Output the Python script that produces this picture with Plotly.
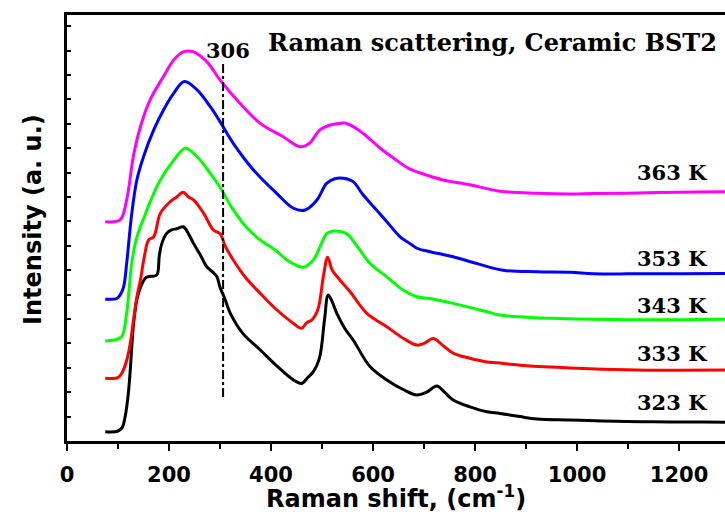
import plotly.graph_objects as go

# Raman spectra of ceramic BST2, stacked by temperature (intensity in arbitrary units, offset per curve)
shift_323 = [75, 99, 108, 114, 120, 124, 130, 137, 144, 155, 165, 176, 181, 186, 195, 205, 215, 228,
             238, 248, 262, 274, 287, 294, 300, 310, 320, 345, 379, 410, 444, 460, 472, 483, 495,
             505, 512, 520, 529, 545, 561, 594, 627, 660, 686, 705, 725, 740, 757, 790, 823, 849,
             888, 921, 986, 1050, 1097, 1150, 1200, 1250, 1290]
int_323 = [0.38, 0.40, 0.55, 1.0, 1.9, 2.9, 4.7, 5.8, 6.3, 6.7, 6.75, 6.8, 7.6, 8.1, 8.5, 8.65, 8.7, 8.78,
           8.5, 8.1, 7.6, 7.14, 6.9, 6.73, 6.3, 5.8, 5.24, 4.4, 3.73, 3.1, 2.5, 2.36, 2.6, 2.84, 3.4,
           5.0, 5.98, 5.7, 5.23, 4.6, 4.14, 3.05, 2.5, 2.1, 1.89, 2.0, 2.25, 2.0, 1.68, 1.4, 1.2, 1.13,
           1.0, 0.9, 0.86, 0.82, 0.8, 0.79, 0.78, 0.78, 0.77]

shift_333 = [75, 100, 108, 117, 124, 130, 137, 144, 152, 160, 170, 183, 202, 215, 228, 238, 248, 268,
             287, 300, 310, 326, 350, 379, 410, 444, 460, 470, 480, 492, 503, 511, 520, 535, 555, 588,
             627, 660, 686, 700, 718, 735, 757, 790, 820, 855, 901, 953, 1000, 1097, 1150, 1200, 1290]
int_333 = [2.57, 2.6, 2.8, 3.3, 4.0, 4.9, 5.9, 6.6, 7.6, 8.24, 8.37, 9.33, 9.8, 10.0, 10.2, 10.0, 9.88,
           9.33, 8.65, 8.5, 8.0, 7.42, 6.7, 6.05, 5.4, 4.82, 4.62, 4.85, 4.96, 5.4, 6.8, 7.53, 7.0,
           6.6, 6.12, 5.23, 4.68, 4.2, 3.93, 4.0, 4.2, 3.95, 3.6, 3.39, 3.25, 3.18, 3.08, 3.03, 2.98,
           2.92, 2.9, 2.9, 2.91]

shift_343 = [75, 98, 108, 117, 127, 135, 144, 150, 165, 183, 209, 232, 255, 281, 300, 326, 350, 379,
             410, 431, 450, 463, 483, 497, 509, 520, 529, 548, 570, 594, 627, 659, 686, 711, 757,
             823, 849, 921, 966, 1000, 1097, 1200, 1290]
int_343 = [4.1, 4.17, 4.3, 5.24, 7.3, 8.2, 8.78, 9.1, 9.9, 10.7, 11.5, 12.0, 11.65, 10.97, 10.4, 9.47,
           8.8, 8.24, 7.8, 7.42, 7.2, 7.12, 7.42, 8.0, 8.5, 8.6, 8.6, 8.5, 7.95, 7.28, 6.73, 6.19, 5.91,
           5.84, 5.64, 5.3, 5.16, 5.05, 5.02, 5.0, 4.97, 4.97, 4.99]

shift_353 = [75, 98, 104, 111, 117, 127, 137, 150, 170, 190, 209, 230, 255, 281, 300, 326, 366, 411,
             444, 467, 490, 509, 525, 542, 561, 580, 601, 627, 653, 672, 686, 712, 757, 803, 855,
             921, 986, 1032, 1100, 1200, 1290]
int_353 = [5.81, 5.85, 5.98, 6.32, 7.28, 9.33, 10.7, 11.65, 12.75, 13.6, 14.25, 14.73, 14.39, 13.7,
           13.09, 12.2, 11.1, 10.15, 9.54, 9.47, 9.88, 10.56, 10.75, 10.77, 10.63, 10.1, 9.6, 8.99,
           8.37, 8.1, 7.9, 7.76, 7.55, 7.28, 7.0, 6.94, 6.92, 6.86, 6.85, 6.86, 6.87]

shift_363 = [75, 104, 117, 130, 144, 163, 189, 209, 228, 248, 274, 300, 339, 379, 424, 457, 475, 496,
             516, 529, 545, 575, 614, 640, 672, 705, 737, 790, 849, 921, 986, 1032, 1100, 1200, 1290]
int_363 = [8.99, 9.06, 9.88, 11.65, 12.88, 13.98, 14.93, 15.61, 15.95, 15.95, 15.55, 14.8, 13.84,
           13.02, 12.47, 12.06, 12.2, 12.75, 12.95, 13.0, 13.03, 12.7, 12.0, 11.6, 11.15, 10.9,
           10.7, 10.5, 10.24, 10.15, 10.12, 10.14, 10.15, 10.2, 10.22]

temperatures = ["323 K", "333 K", "343 K", "353 K", "363 K"]
label_levels = [1.56, 3.6, 5.57, 7.5, 11.02]
colors = ["#000000", "#ff0000", "#00ff00", "#0000ff", "#ff00ff"]
spectra = [(shift_323, int_323), (shift_333, int_333), (shift_343, int_343),
           (shift_353, int_353), (shift_363, int_363)]

mode_position = 306
mode_span = [1.8, 15.5]

fig = go.Figure()
for (xs, ys), name, color in zip(spectra, temperatures, colors):
    fig.add_trace(go.Scatter(x=xs, y=ys, mode="lines", name=name,
                             line=dict(color=color, width=3, shape="spline", smoothing=1.0)))

# vertical marker for the 306 cm-1 mode
fig.add_shape(type="line", x0=mode_position, x1=mode_position, y0=mode_span[0], y1=mode_span[1],
              xref="x", yref="y", line=dict(color="black", width=2, dash="dashdot"))

serif = "DejaVu Serif"
sans = "DejaVu Sans"

annotations = [
    dict(x=mode_position + 10, y=16.0, text="306", showarrow=False, xanchor="center", yanchor="middle",
         font=dict(family=serif, size=21, color="black", weight="bold")),
    dict(x=1278, y=16.35, text="Raman scattering, Ceramic BST2", showarrow=False,
         xanchor="right", yanchor="middle",
         font=dict(family=serif, size=24, color="black", weight="bold")),
    dict(x=0.5, y=0, xref="paper", yref="paper", yshift=-56, text="Raman shift, (cm<sup>-1</sup>)",
         showarrow=False, xanchor="center", yanchor="middle",
         font=dict(family=sans, size=24, color="black", weight="bold")),
    dict(x=0, y=0.519, xref="paper", yref="paper", xshift=-34, text="Intensity (a. u.)",
         showarrow=False, xanchor="center", yanchor="middle", textangle=-90,
         font=dict(family=sans, size=24, color="black", weight="bold")),
]
for name, level in zip(temperatures, label_levels):
    annotations.append(dict(x=1186, y=level, text=name, showarrow=False, xanchor="center",
                            yanchor="middle",
                            font=dict(family=serif, size=21, color="black", weight="bold")))

fig.update_layout(
    width=725, height=516,
    margin=dict(l=67, r=0, t=15, b=75),
    paper_bgcolor="white", plot_bgcolor="white",
    showlegend=False,
    annotations=annotations,
    xaxis=dict(range=[0, 1290], tick0=0, dtick=200, showgrid=False, zeroline=False,
               showline=True, linecolor="black", linewidth=2.5, mirror=True,
               ticks="outside", ticklen=7, tickwidth=2, tickcolor="black",
               minor=dict(dtick=100, ticks="outside", ticklen=5, tickwidth=2, tickcolor="black"),
               ticklabelstandoff=6,
               tickfont=dict(family=sans, size=21, color="black", weight="bold")),
    yaxis=dict(range=[0, 17.46], tick0=0, dtick=1, showgrid=False, zeroline=False,
               showline=True, linecolor="black", linewidth=2.5, mirror=False,
               ticks="inside", ticklen=4, tickwidth=1.5, tickcolor="black",
               showticklabels=False),
)

fig.write_html("out.html")
